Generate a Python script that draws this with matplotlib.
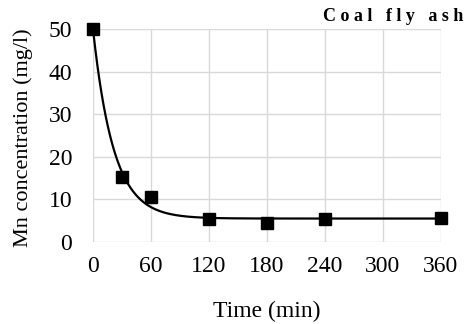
import matplotlib
matplotlib.use("Agg")
import matplotlib.pyplot as plt
from scipy.optimize import curve_fit
import numpy as np

# measured points
time_min = np.array([0, 30, 60, 120, 180, 240, 360])
mn_conc = np.array([50.0, 15.3, 10.5, 5.3, 4.5, 5.5, 5.6])
x_ticks = [0, 60, 120, 180, 240, 300, 360]
y_ticks = [0, 10, 20, 30, 40, 50]


def decay(t, ce, c0, k):
    return ce + (c0 - ce) * np.exp(-k * t)


params, cov = curve_fit(decay, time_min, mn_conc, p0=[5, 50, 0.05])
t_fit = np.linspace(0, 360, 500)
c_fit = decay(t_fit, *params)

plt.rcParams['font.family'] = ['Liberation Serif', 'DejaVu Serif']

fig = plt.figure(figsize=(4.7, 3.24), dpi=100)
ax = fig.add_axes([0.198, 0.253, 0.740, 0.657])

ax.plot(t_fit, c_fit, color='black', lw=1.6, zorder=3, clip_on=False)
ax.plot(time_min, mn_conc, 's', color='black', ms=8.5, zorder=4, clip_on=False)

ax.set_xlim(0, 360)
ax.set_ylim(0, 50)
ax.set_xticks(x_ticks)
ax.set_yticks(y_ticks)
ax.grid(True, color='#d9d9d9', lw=1)
ax.set_axisbelow(True)
for s in ax.spines.values():
    s.set_visible(False)
ax.tick_params(length=0, labelsize=17)
ax.tick_params(axis='x', pad=10)
ax.tick_params(axis='y', pad=15)

xl = ax.set_xlabel('Time (min)', fontsize=17)
xl.set_va('baseline')
ax.xaxis.set_label_coords(0.5, -0.35)
yl = ax.set_ylabel('Mn concentration (mg/l)', fontsize=16)
yl.set_va('center')
ax.yaxis.set_label_coords(-0.201, 0.488)

fig.text(0.986, 0.936, 'C o a l   f l y   a s h', ha='right', va='baseline',
         fontsize=13, fontweight='bold')

fig.savefig('out.png', dpi=100)
